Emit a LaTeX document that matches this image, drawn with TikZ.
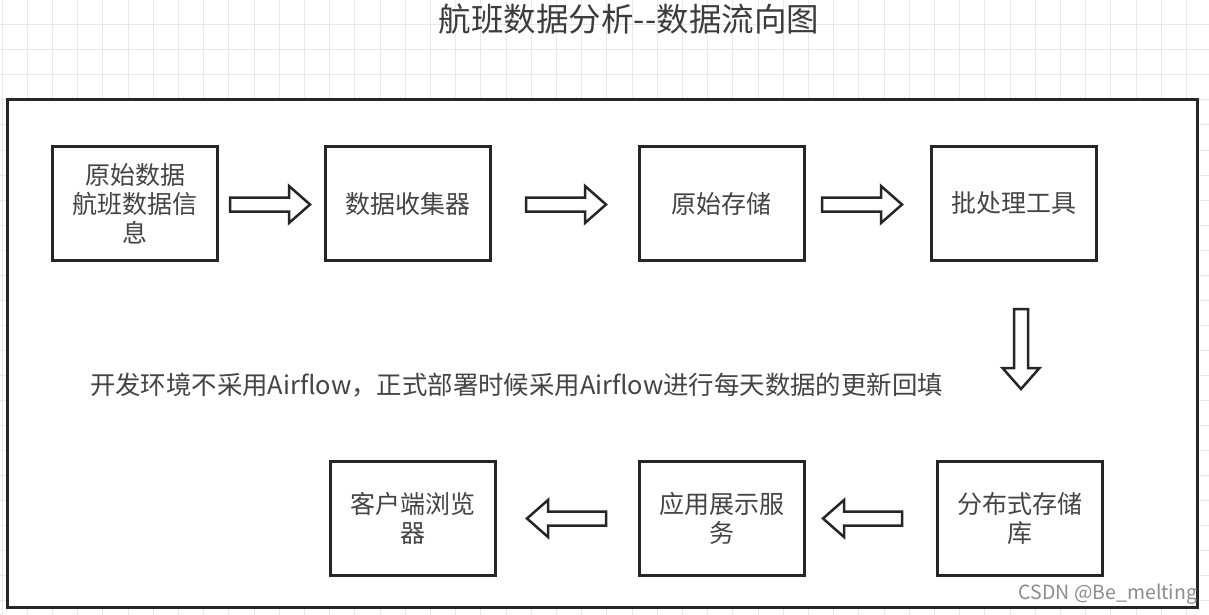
\documentclass[tikz,border=0pt]{standalone}
\usepackage{fontspec}
\setmainfont{Noto Sans CJK SC}
\usepackage{tikz}
\usetikzlibrary{calc,positioning}

\definecolor{ink}{HTML}{262626}
\definecolor{txt}{HTML}{444444}
\definecolor{gridc}{HTML}{E8E8EC}

% hollow block arrow from #1 to #2
\newcommand{\hollowarrow}[2]{%
  \coordinate (hb) at ($(#2)!21pt!(#1)$);
  \draw[flow] ($(#1)!7pt!90:(#2)$) -- ($(hb)!7pt!90:(#2)$) -- ($(hb)!18.5pt!90:(#2)$) -- (#2)
    -- ($(hb)!18.5pt!-90:(#2)$) -- ($(hb)!7pt!-90:(#2)$) -- ($(#1)!7pt!-90:(#2)$) -- cycle;}

\begin{document}
\begin{tikzpicture}[x=1pt, y=-1pt, >=stealth,
	stage/.style={draw=ink, line width=3pt, minimum width=165pt, minimum height=114pt,
		align=center, text=txt, font=\fontsize{25}{29}\selectfont},
	flow/.style={draw=ink, line width=2.5pt, fill=white, line join=miter},
	gridline/.style={draw=gridc, line width=1pt}]
		
		\useasboundingbox (0,0) rectangle (1209,615);
		
		% background grid
		\foreach \i in {0,...,47}
		\draw [gridline] (2+25.2*\i,0) -- (2+25.2*\i,615);
		\foreach \j in {1,...,24}
		\draw [gridline] (0,25*\j) -- (1209,25*\j);
		
		\node [text=ink!90, font=\fontsize{32.5}{37}\selectfont] (title) at (629,19) {航班数据分析-{}-数据流向图};
		
		\fill [white] (7,100) rectangle (1197,607);
		\draw [ink, line width=3pt] (7,100) rectangle (1197,607);
		
		\foreach \m/\l [count=\x] in {135/原始数据\\航班数据信\\息, 407.5/数据收集器, 721.5/原始存储, 1013.5/批处理工具}
		\node [stage] (top-\x) at (\m,203.5) {\l};
		
		\foreach \m/\l [count=\x] in {1020/分布式存储\\库, 722/应用展示服\\务, 412.5/客户端浏览\\器}
		\node [stage] (bottom-\x) at (\m,518.5) {\l};
		
		\node [text=txt, font=\fontsize{25.4}{29}\selectfont] (note) at (516.5,385)
		{开发环境不采用Airflow，正式部署时候采用Airflow进行每天数据的更新回填};
		
		\coordinate (a1-s) at (230,204.5);  \coordinate (a1-e) at (310,204.5);
		\coordinate (a2-s) at (526,204.5);  \coordinate (a2-e) at (606,204.5);
		\coordinate (a3-s) at (822,204.5);  \coordinate (a3-e) at (902,204.5);
		\coordinate (a4-s) at (1021,309);   \coordinate (a4-e) at (1021,389);
		\coordinate (a5-s) at (902,518.5);  \coordinate (a5-e) at (823,518.5);
		\coordinate (a6-s) at (606,518.5);  \coordinate (a6-e) at (527,518.5);
		
		\foreach \i in {1,...,6}
		\hollowarrow{a\i-s}{a\i-e};
		
		\node [text=black!45, font=\fontsize{19.5}{22}\selectfont] (credit) at (1108,594) {CSDN @Be\_melting};

		\end{tikzpicture}
\end{document}
